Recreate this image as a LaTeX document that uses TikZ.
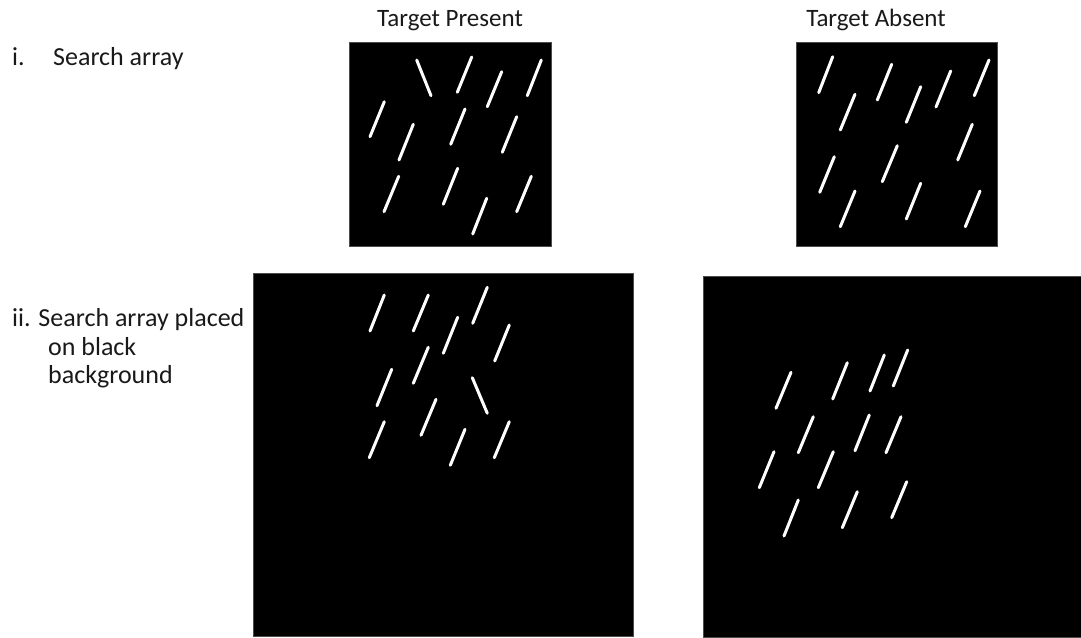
\documentclass[tikz,border=0pt]{standalone}
\usepackage{fontspec}
\setmainfont{Carlito}
\begin{document}
\begin{tikzpicture}[x=1pt,y=-1pt,
  panel/.style={fill=black,draw=black!70,line width=0.6pt},
  bar/.style={white,line width=3pt,line cap=round},
  lbl/.style={anchor=base west,inner sep=0pt,text=black!90,font=\fontsize{26}{31}\selectfont},
  ttl/.style={anchor=base,inner sep=0pt,text=black!90,font=\fontsize{25}{30}\selectfont}]
\useasboundingbox (0,0) rectangle (1081,637);
% titles
\node[ttl] (tp) at (450,26) {Target Present};
\node[ttl] (ta) at (876,26) {Target Absent};
% row labels
\node[lbl] (l1a) at (12,65) {i.};
\node[lbl] (l1b) at (53,65) {Search array};
\node[lbl] (l2a) at (12,326) {ii. Search array placed};
\node[lbl] (l2b) at (48,355) {on black};
\node[lbl] (l2c) at (48,383) {background};
% panels
\fill[panel] (349,42) rectangle (551,246);
\fill[panel] (796,42) rectangle (997,246);
\fill[panel] (253,273) rectangle (633,636);
\fill[panel] (703,276) rectangle (1081,637);
% panel 1 (target present)
\foreach \a/\b/\c/\d in {
 416.7/60/431/95.7, 471.7/57/457.3/92.3, 501.7/71.7/487.3/106.7, 541.3/60/527.3/95.7,
 384.3/101.7/370/136.7, 413.3/124.3/399/160, 465/109/450.7/144.3, 516.7/116.7/502.3/152.3,
 398.7/176.3/384/211.7, 457.7/168.3/443.3/204.3, 486.7/198.3/472.7/234, 531.3/176.3/516.7/211.7}
 \draw[bar] (\a,\b) -- (\c,\d);
% panel 2 (target absent)
\foreach \a/\b/\c/\d in {
 832.7/56.7/818.7/92.7, 891.7/64.3/877.3/100, 950.7/71/936/107, 989/60/974.3/95.7,
 855/94.3/840.3/130, 920.7/86.7/906.3/122.3, 972.3/124.3/957.7/160, 834.3/156.7/819.7/192.3,
 897.3/145.7/882.3/181.7, 855/191/840.3/226.7, 920.7/183.3/906.3/219, 980/191/965.3/226.7}
 \draw[bar] (\a,\b) -- (\c,\d);
% panel 3
\foreach \a/\b/\c/\d in {
 384.3/295/370/331, 428.3/295/413.3/331, 487.3/287.3/472.7/323.3, 457.7/317.3/443.3/353.3,
 509.3/325/494.7/361, 428.3/347.3/413.3/383.3, 391.7/369.3/377/405.7, 472.3/377.7/487.3/413.3,
 436/399.3/421/435.3, 384.3/421.7/369.3/457.7, 465/429.3/450.3/465.3, 509.3/421.7/494.3/457.7}
 \draw[bar] (\a,\b) -- (\c,\d);
% panel 4
\foreach \a/\b/\c/\d in {
 791/372.3/776/408.3, 847.3/362.7/832.7/399, 884.3/355/870/391, 907.7/350/893.3/386,
 813.3/416.7/798.3/452.7, 869.3/415/855/450.7, 901/416.7/886/452.7, 774/451.7/759.3/487.7,
 833.3/451.7/818.3/487.7, 798.3/500/784/536, 857.3/491.7/842.3/527.7, 906.7/481.7/891.7/517.7}
 \draw[bar] (\a,\b) -- (\c,\d);
\end{tikzpicture}
\end{document}
